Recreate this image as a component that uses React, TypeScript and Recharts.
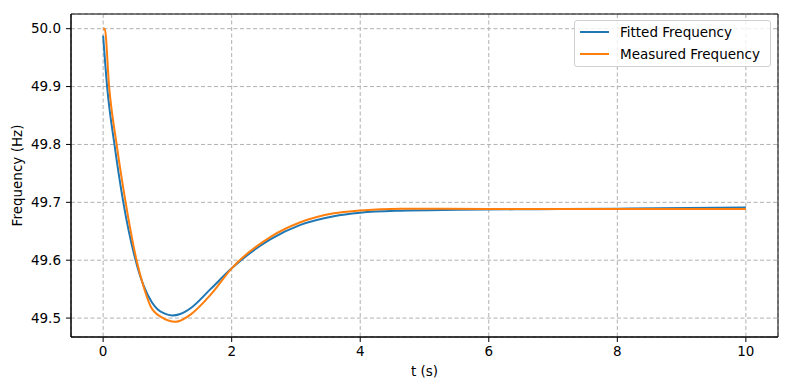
import { LineChart, Line, XAxis, YAxis, CartesianGrid, ReferenceArea } from 'recharts'

// Values
const fittedT = [0, 0.062, 0.176, 0.314, 0.505, 0.63, 0.76, 0.85, 0.95, 1.075, 1.2, 1.36, 1.67, 2.0, 2.6, 3.07, 3.59, 4.0, 4.63, 5.5, 6.5, 8.0, 10.0]
const fittedHz = [49.988, 49.9, 49.8, 49.7, 49.6, 49.556, 49.527, 49.515, 49.508, 49.5045, 49.507, 49.517, 49.55, 49.586, 49.636, 49.661, 49.676, 49.682, 49.6855, 49.687, 49.688, 49.689, 49.691]

const measuredT = [0, 0.025, 0.093, 0.21, 0.35, 0.52, 0.63, 0.74, 0.9, 1.13, 1.36, 1.67, 2.0, 2.6, 3.07, 3.59, 4.0, 4.63, 6.0, 8.0, 10.0]
const measuredHz = [50.0, 50.0, 49.9, 49.8, 49.7, 49.6, 49.554, 49.52, 49.502, 49.4935, 49.506, 49.54, 49.586, 49.64, 49.6655, 49.681, 49.686, 49.689, 49.6885, 49.6885, 49.6885]

const xTicks = [0, 2, 4, 6, 8, 10]
const yTicks = [49.5, 49.6, 49.7, 49.8, 49.9, 50.0]

const fitted = fittedT.map((t, i) => ({ t, hz: fittedHz[i] }))
const measured = measuredT.map((t, i) => ({ t, hz: measuredHz[i] }))

const FONT = 'DejaVu Sans, sans-serif'
const xDomain = [-0.5, 10.5]
const yDomain = [49.4673, 50.0254]

const legendItems = [
  { name: 'Fitted Frequency', color: '#1f77b4' },
  { name: 'Measured Frequency', color: '#ff7f0e' },
]

const App = () => {
  return (
    <div style={{ position: 'absolute', left: 0, top: 0, width: 790, height: 390, background: '#fff', fontFamily: FONT }}>
      <LineChart width={790} height={390} margin={{ top: 14, right: 12, left: 0, bottom: 0 }}>
        <CartesianGrid stroke="#b0b0b0" strokeDasharray="4 2.5" />
        <XAxis
          type="number"
          dataKey="t"
          domain={xDomain}
          allowDataOverflow
          ticks={xTicks}
          height={53}
          tickSize={5}
          tickMargin={4}
          stroke="#000"
          tick={{ fill: '#000', fontSize: 13.5, fontFamily: FONT }}
          label={({ viewBox }: any) => (
            <text x={viewBox.x + viewBox.width / 2} y={376} textAnchor="middle" fontSize={13.5} fontFamily={FONT} fill="#000">
              t (s)
            </text>
          )}
        />
        <YAxis
          type="number"
          domain={yDomain}
          allowDataOverflow
          ticks={yTicks}
          width={71}
          tickSize={5}
          tickMargin={5}
          stroke="#000"
          tickFormatter={(v: number) => v.toFixed(1)}
          tick={{ fill: '#000', fontSize: 13.5, fontFamily: FONT }}
          label={({ viewBox }: any) => {
            const cy = viewBox.y + viewBox.height / 2
            return (
              <text x={22} y={cy} transform={`rotate(-90, 22, ${cy})`} textAnchor="middle" fontSize={13.5} fontFamily={FONT} fill="#000">
                Frequency (Hz)
              </text>
            )
          }}
        />
        <ReferenceArea x1={xDomain[0]} x2={xDomain[1]} y1={yDomain[0]} y2={yDomain[1]} fill="none" stroke="#000" strokeWidth={1} />
        <Line
          data={fitted}
          dataKey="hz"
          type="monotone"
          stroke="#1f77b4"
          strokeWidth={2}
          dot={false}
          isAnimationActive={false}
        />
        <Line
          data={measured}
          dataKey="hz"
          type="monotone"
          stroke="#ff7f0e"
          strokeWidth={2}
          dot={false}
          isAnimationActive={false}
        />
      </LineChart>

      <div
        style={{
          position: 'absolute',
          left: 574,
          top: 20,
          width: 197,
          height: 47,
          boxSizing: 'border-box',
          border: '1px solid #d0d0d0',
          borderRadius: 3,
          background: 'rgba(255,255,255,0.8)',
        }}
      >
        {legendItems.map((item, i) => (
          <div key={item.name} style={{ position: 'absolute', left: 0, top: 11 + i * 22 - 9, height: 18, display: 'flex', alignItems: 'center' }}>
            <div style={{ marginLeft: 5, width: 29, height: 2, background: item.color }} />
            <span style={{ marginLeft: 11, fontSize: 13.5, color: '#000', whiteSpace: 'nowrap' }}>{item.name}</span>
          </div>
        ))}
      </div>
    </div>
  )
}

export default App
